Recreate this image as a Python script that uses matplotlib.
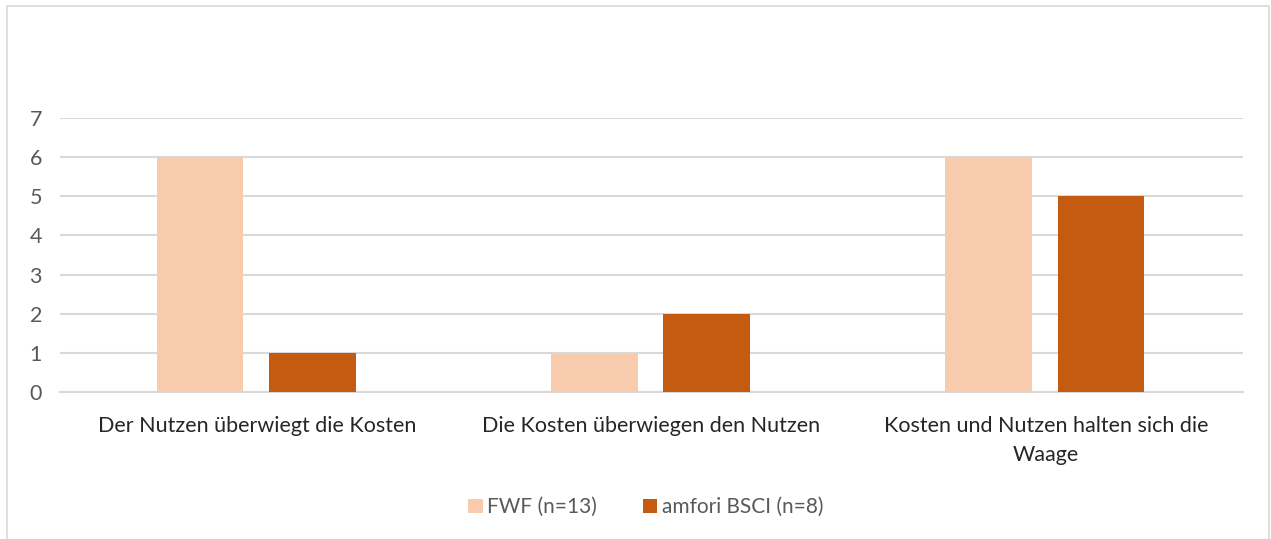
import matplotlib
matplotlib.use('Agg')
import numpy as np
from matplotlib import pyplot as plt
from matplotlib.patches import Rectangle

categories = ['Der Nutzen überwiegt die Kosten',
              'Die Kosten überwiegen den Nutzen',
              'Kosten und Nutzen halten sich die\nWaage']
fwf = [6, 1, 6]
bsci = [1, 2, 5]
series_names = ['FWF (n=13)', 'amfori BSCI (n=8)']

plt.rcParams['font.family'] = ['Lato', 'DejaVu Sans']

fig = plt.figure(figsize=(12.71, 5.39), dpi=100)
ax = fig.add_axes([0.0472, 0.2727, 0.9308, 0.5083])

x = np.arange(len(categories))
w = 0.22
ax.bar(x - 0.145, fwf, w, color='#F8CBAD', label=series_names[0], zorder=3)
ax.bar(x + 0.14, bsci, w, color='#C55A11', label=series_names[1], zorder=3)

ax.set_xlim(-0.5, 2.5)
ax.set_ylim(0, 7)
ax.set_yticks(range(8))
ax.yaxis.grid(True, color='#D9D9D9', linewidth=1.5, zorder=0)
ax.set_axisbelow(True)
for s in ['top', 'right', 'left']:
    ax.spines[s].set_visible(False)
ax.spines['bottom'].set_color('#D9D9D9')
ax.spines['bottom'].set_linewidth(1.5)
ax.tick_params(axis='both', length=0)
ax.tick_params(axis='y', labelsize=15.5, labelcolor='#595959', pad=13)
ax.set_xticks(x)
ax.set_xticklabels(categories, fontsize=15.5, color='#262626', linespacing=1.6)
ax.tick_params(axis='x', pad=17)

fig.legend(loc='center', bbox_to_anchor=(0.508, 0.059), ncol=2, frameon=False,
           fontsize=15, labelcolor='#595959', handlelength=0.7, handleheight=0.7,
           handletextpad=0.2, columnspacing=2.2)

fig.patches.append(Rectangle((7 / 1271, -0.01), 1262 / 1271, 1 - 6 / 539 + 0.01,
                             transform=fig.transFigure, fill=False,
                             edgecolor='#D9D9D9', linewidth=1.2))

fig.savefig('out.png', dpi=100)
